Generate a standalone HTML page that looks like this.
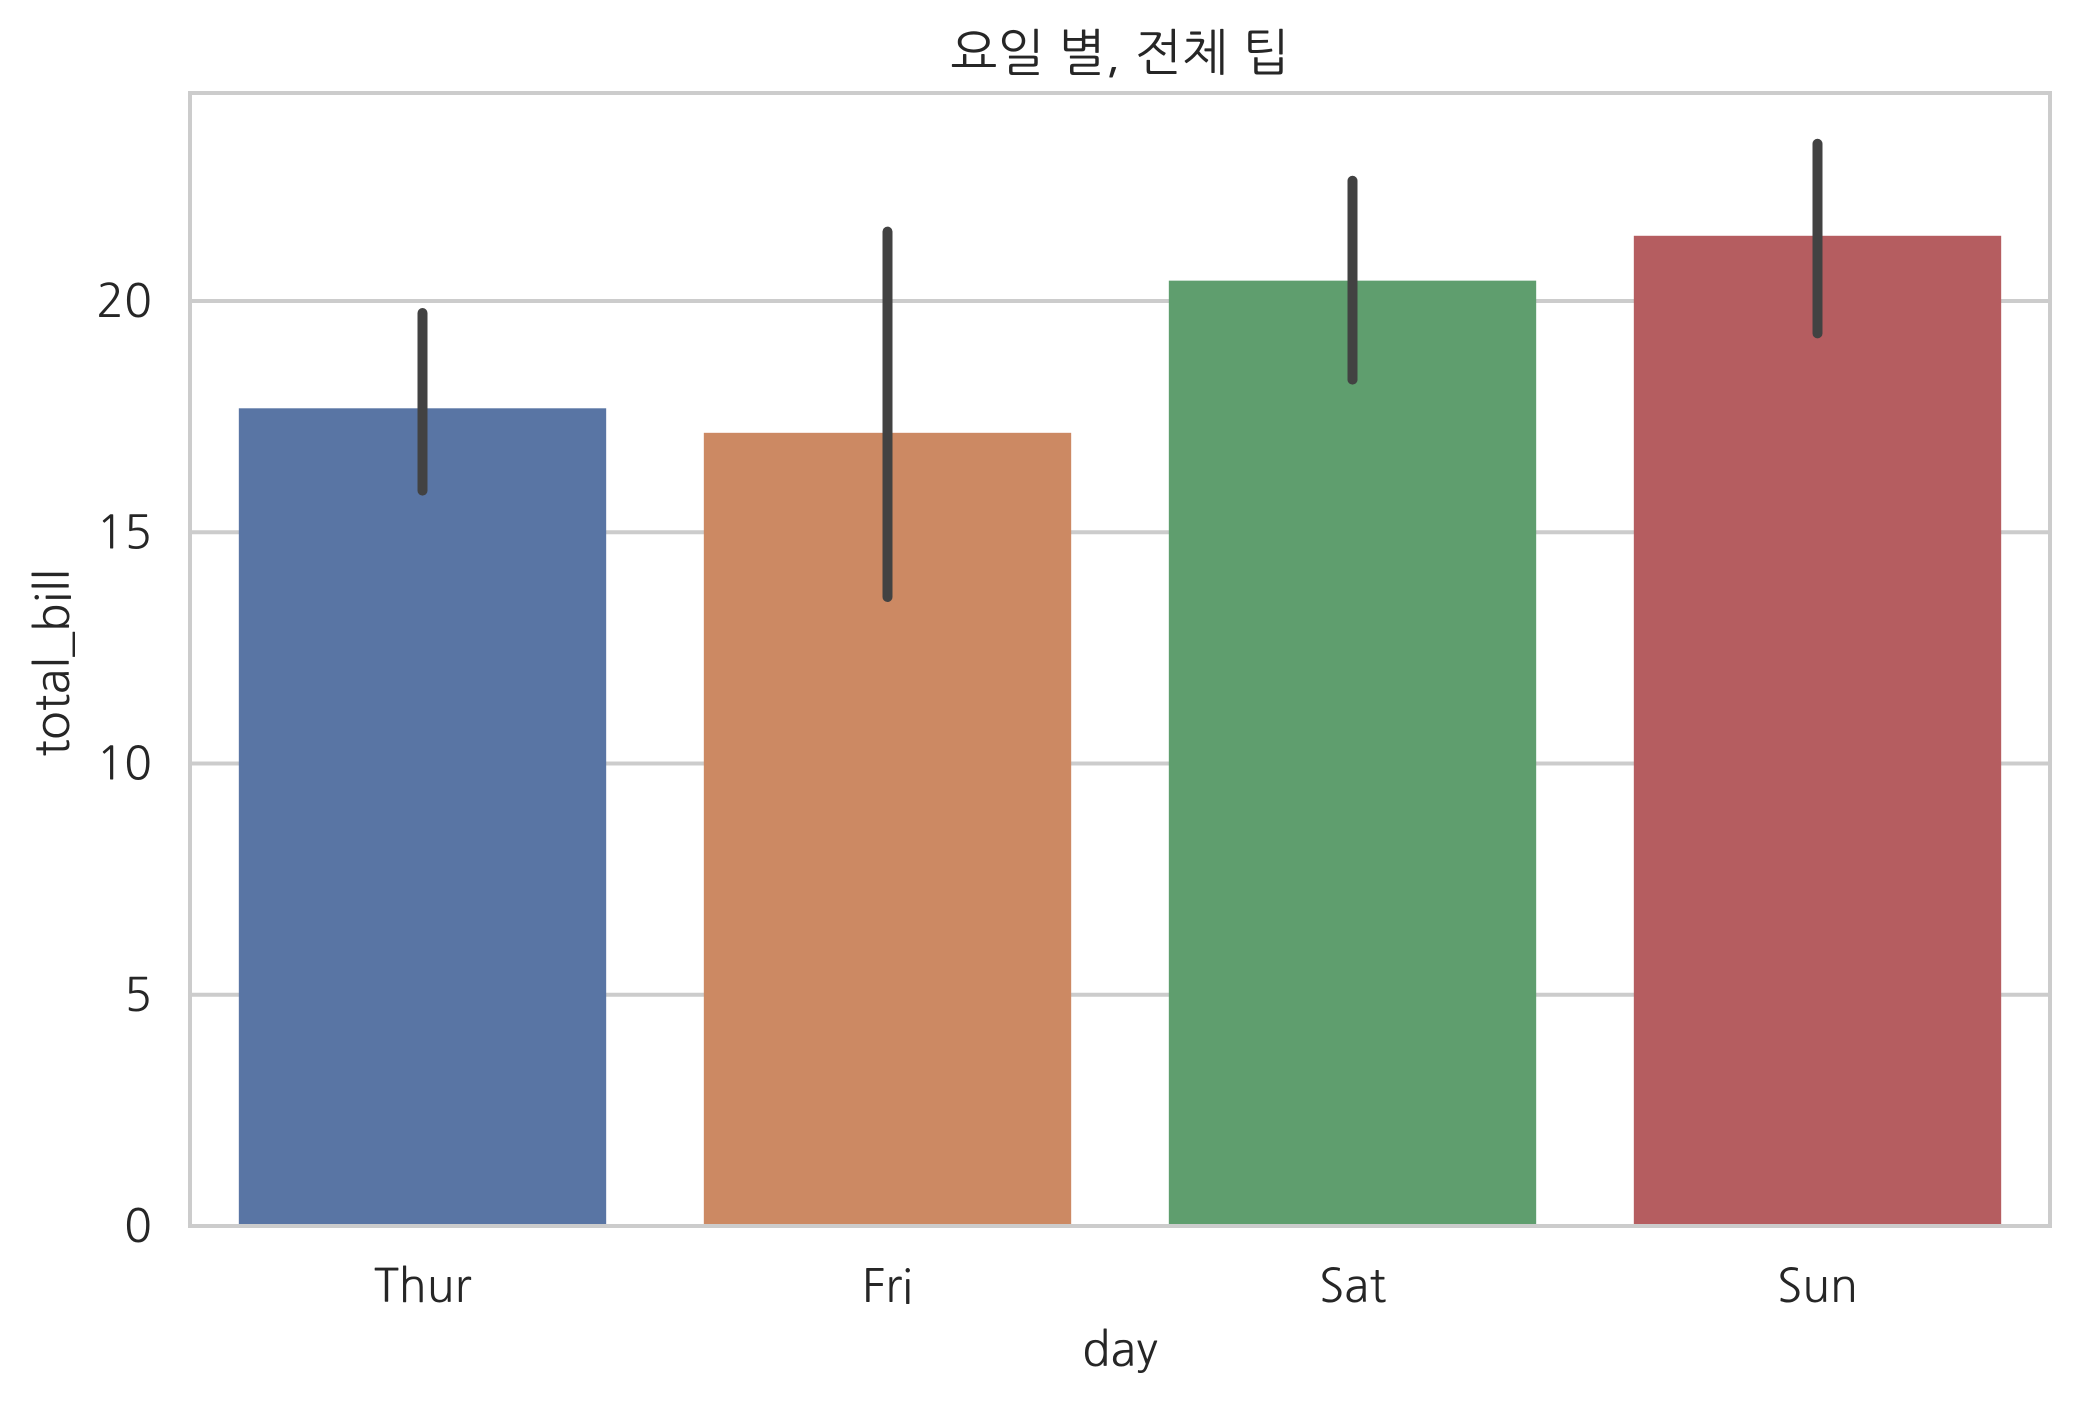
<!DOCTYPE html>
<html><head><meta charset="utf-8"><style>
html,body{margin:0;padding:0;background:#fff;}
svg{display:block;font-family:"NanumGothic","Liberation Sans","Noto Sans CJK KR",sans-serif;}
</style></head><body>
<svg id="chart" width="2079" height="1404" viewBox="0 0 2079 1404">
<rect width="2079" height="1404" fill="#fff"/>
<g id="grid"></g>
<g id="bars"></g>
<g id="errs"></g>
<g id="spines"></g>
<g id="labels"></g>
<text x="1120" y="70" font-size="50" text-anchor="middle" fill="#262626">요일 별, 전체 팁</text>
<text x="1120" y="1366" font-size="47" text-anchor="middle" fill="#262626">day</text>
<text x="0" y="0" font-size="47" text-anchor="middle" fill="#262626" transform="translate(69,663) rotate(-90)">total_bill</text>
</svg>
<script>
const categories = ["Thur","Fri","Sat","Sun"];
const means = [17.68, 17.15, 20.44, 21.41];
const ciLow = [15.9, 13.6, 18.3, 19.3];
const ciHigh = [19.74, 21.5, 22.6, 23.4];
const yTicks = [0,5,10,15,20];
const colors = ["#5975a4","#cc8963","#5f9e6e","#b55d60"];

const L=190,R=2050,T=93,B=1226, yMax=(B-T)/((B-301)/20);
const NS="http://www.w3.org/2000/svg";
function y(v){return B-(v/yMax)*(B-T);}
const band=(R-L)/categories.length;
function xc(i){return L+band*(i+0.5);}
function mk(tag,attrs,parent){const e=document.createElementNS(NS,tag);for(const k in attrs)e.setAttribute(k,attrs[k]);document.getElementById(parent).appendChild(e);return e;}

yTicks.forEach((t,i)=>{
  const g=mk('line',{x1:L,x2:R,y1:y(t),y2:y(t),stroke:'#cccccc','stroke-width':4},'grid');
  
  
  const tx=mk('text',{x:152,y:y(t)+16,'font-size':46,'text-anchor':'end',fill:'#262626'},'labels');
  tx.textContent=String(t);
  
  
});
categories.forEach((c,i)=>{
  const w=band*0.79;
  const r=mk('rect',{x:xc(i)-w/2,y:y(means[i]),width:w,height:B-y(means[i]),fill:colors[i]},'bars');
  
  
  const e=mk('line',{x1:xc(i),x2:xc(i),y1:y(ciLow[i]),y2:y(ciHigh[i]),stroke:'#424242','stroke-width':10,'stroke-linecap':'round'},'errs');
  
  
  const t=mk('text',{x:xc(i),y:1302,'font-size':46,'text-anchor':'middle',fill:'#262626'},'labels');
  t.textContent=c;
  
  
});
const sp=mk('rect',{x:L,y:T,width:R-L,height:B-T,fill:'none',stroke:'#cccccc','stroke-width':4},'spines');


</script>
</body></html>
